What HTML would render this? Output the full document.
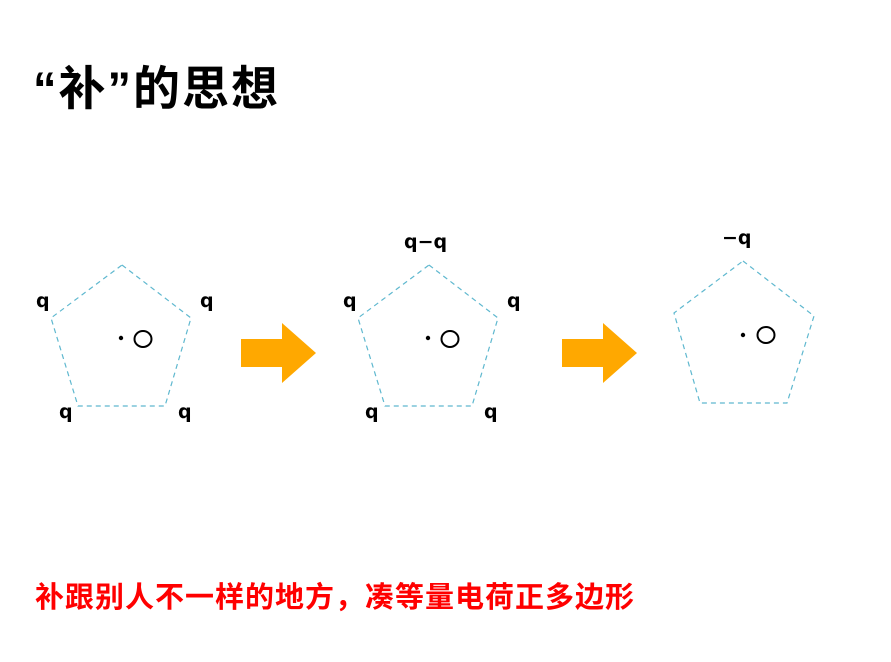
<!DOCTYPE html>
<html><head><meta charset="utf-8"><style>
html,body{margin:0;padding:0;background:#fff;width:891px;height:662px;overflow:hidden;position:relative}
.t{position:absolute;white-space:nowrap;font-family:"Liberation Sans","Noto Sans CJK SC",sans-serif}
</style></head><body>
<div class="t" style="left:33px;top:50px;font-size:47px;font-weight:bold;color:#000;letter-spacing:2px">“补”的思想</div>
<div class="t" style="left:35px;top:574px;font-size:29px;font-weight:bold;color:#ff0000;letter-spacing:1px">补跟别人不一样的地方，凑等量电荷正多边形</div>
<svg width="891" height="662" style="position:absolute;left:0;top:0" font-family="DejaVu Sans, Liberation Sans, sans-serif">
<g fill="none" stroke="#5fb8cf" stroke-width="1.2" stroke-dasharray="5,4">
<polygon points="122,265 191,318 165,406 78,406 51,318"/>
<polygon points="429,265 498,318 472,406 385,406 358,318"/>
<polygon points="743,261 814,316 787,403 700,403 674,313"/>
</g>
<g fill="#ffa800">
<polygon points="241,339 282,339 282,323 316,353 282,383 282,367 241,367"/>
<polygon points="562,339 603,339 603,323 637,353 603,383 603,367 562,367"/>
</g>
<g font-size="19" fill="#000" font-weight="bold">
<text x="36" y="307">q</text><text x="200" y="307">q</text><text x="59" y="418">q</text><text x="178" y="418">q</text>
<text x="343" y="307">q</text><text x="507" y="307">q</text><text x="365" y="418">q</text><text x="484" y="418">q</text>
<text x="404" y="248">q−q</text>
<text x="722" y="244">−q</text>
</g>
<g fill="#000">
<circle cx="121" cy="338" r="2.2"/><circle cx="428" cy="338" r="2.2"/><circle cx="743" cy="335" r="2.2"/>
</g>
<g fill="none" stroke="#000" stroke-width="2">
<ellipse cx="143" cy="339" rx="8.5" ry="8"/>
<ellipse cx="450" cy="339" rx="8.5" ry="8"/>
<ellipse cx="766" cy="335" rx="8.5" ry="8"/>
</g>
</svg>
</body></html>
